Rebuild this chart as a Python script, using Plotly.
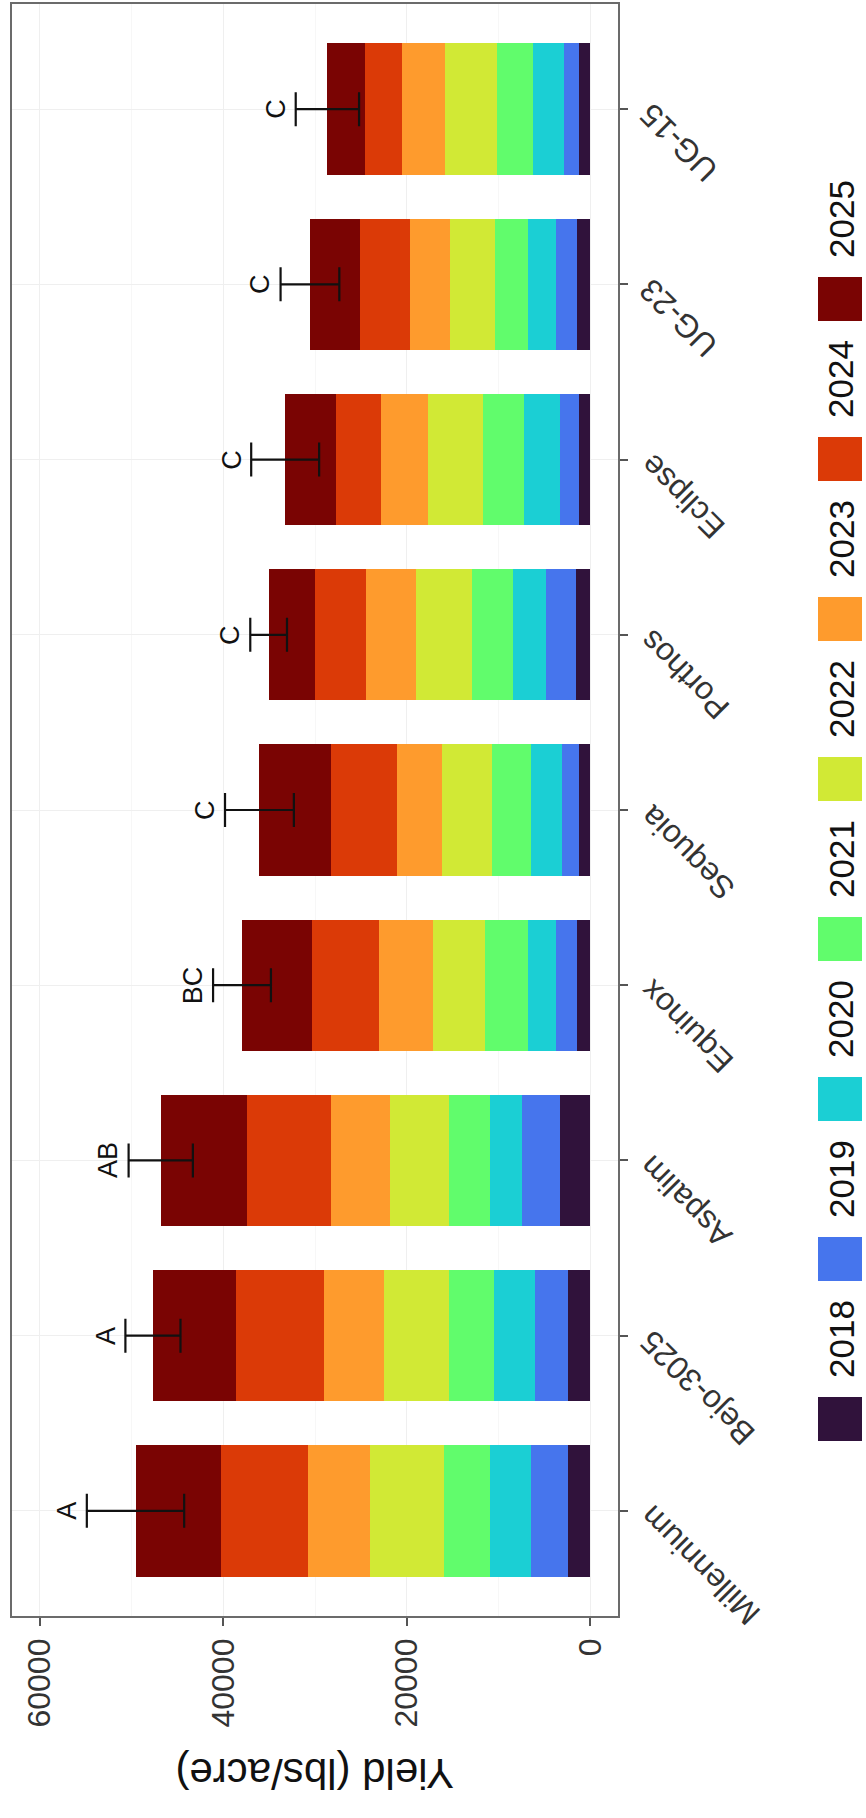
import numpy as np
import plotly.graph_objects as go

# ---------------- data ----------------
varieties = ["Millennium", "Bejo-3025", "Aspalim", "Equinox", "Sequoia",
             "Porthos", "Eclipse", "UG-23", "UG-15"]
years = ["2018", "2019", "2020", "2021", "2022", "2023", "2024", "2025"]

y2018 = [2500, 2400, 3300, 1500, 1200, 1600, 1300, 1500, 1200]
y2019 = [3950, 3600, 4200, 2200, 1900, 3200, 2000, 2300, 1700]
y2020 = [4500, 4500, 3450, 3150, 3350, 3600, 3900, 3000, 3350]
y2021 = [5000, 4950, 4500, 4650, 4300, 4500, 4500, 3600, 3950]
y2022 = [8100, 7000, 6400, 5700, 5400, 6150, 6000, 4900, 5600]
y2023 = [6750, 6600, 6400, 5800, 4900, 5400, 5100, 4350, 4700]
y2024 = [9400, 9600, 9150, 7350, 7200, 5500, 4900, 5400, 4050]
y2025 = [9350, 9000, 9400, 7600, 7800, 5100, 5550, 5500, 4100]

std_err = [5300, 3000, 3500, 3150, 3750, 2000, 3700, 3200, 3450]
letters = ["A", "A", "AB", "BC", "C", "C", "C", "C", "C"]

x_ticks = [0, 20000, 40000, 60000]
x_ticktext = ["0", "20000", "40000", "60000"]

series = [y2018, y2019, y2020, y2021, y2022, y2023, y2024, y2025]
colors = ["#30123B", "#4675ED", "#1BCFD4", "#61FC6C",
          "#D1E935", "#FE9B2D", "#DB3A07", "#7A0403"]

totals = np.sum(np.array(series), axis=0)

FONT = "Liberation Sans, Arial, sans-serif"

# plot-area geometry in pixels (for paper-referenced decorations)
W, H = 866, 1818
PL, PR, PT, PB = 12, 618, 4, 1616


def px_to_paper_x(px):
    return (px - PL) / (PR - PL)


def px_to_paper_y(py):
    return (PB - py) / (PB - PT)


fig = go.Figure()

for yr, vals, col in zip(years, series, colors):
    fig.add_trace(go.Bar(
        x=vals, y=varieties, orientation="h", name=yr,
        marker=dict(color=col, line=dict(width=0)),
        width=0.75, showlegend=False,
    ))

# error bars at the stacked totals
fig.add_trace(go.Scatter(
    x=totals, y=varieties, mode="markers",
    marker=dict(size=1, color="rgba(0,0,0,0)"),
    error_x=dict(type="data", array=std_err, symmetric=True,
                 color="#111111", thickness=2.2, width=17),
    showlegend=False, hoverinfo="skip",
))

annotations = []

# significance letters
for v, tot, se, let in zip(varieties, totals, std_err, letters):
    annotations.append(dict(
        x=tot + se, y=v, xref="x", yref="y", text=let, showarrow=False,
        textangle=-90, xanchor="center", yanchor="middle", xshift=-20,
        font=dict(family=FONT, size=27, color="#111111"),
    ))

# category labels (rotated)
for v in varieties:
    annotations.append(dict(
        x=1, y=v, xref="paper", yref="y", text=v, showarrow=False,
        textangle=-135, xanchor="left", yanchor="top", xshift=12, yshift=15,
        font=dict(family=FONT, size=32, color="#333333"),
    ))

# axis title (upside down)
annotations.append(dict(
    x=0.5, y=px_to_paper_y(1774), xref="paper", yref="paper",
    text="Yield (lbs/acre)", showarrow=False, textangle=180,
    xanchor="center", yanchor="middle",
    font=dict(family=FONT, size=42, color="#111111"),
))

# manual legend (rotated text)
shapes = []
for i, (yr, col) in enumerate(zip(years, colors)):
    top = 1397 - i * 160
    shapes.append(dict(
        type="rect", xref="paper", yref="paper",
        x0=px_to_paper_x(818), x1=px_to_paper_x(862),
        y0=px_to_paper_y(top + 44), y1=px_to_paper_y(top),
        fillcolor=col, line=dict(width=0),
    ))
    annotations.append(dict(
        x=px_to_paper_x(841), y=px_to_paper_y(top - 19 - 39),
        xref="paper", yref="paper", text=yr, showarrow=False,
        textangle=-90, xanchor="center", yanchor="middle",
        font=dict(family=FONT, size=35, color="#111111"),
    ))

fig.update_layout(
    width=W, height=H,
    margin=dict(l=PL, r=W - PR, t=PT, b=H - PB, autoexpand=False),
    barmode="stack",
    plot_bgcolor="white", paper_bgcolor="white",
    showlegend=False,
    annotations=annotations,
    shapes=shapes,
    font=dict(family=FONT),
)

fig.update_xaxes(
    range=[63000, -3000],
    tickvals=x_ticks, ticktext=x_ticktext, tickangle=-90,
    ticks="outside", ticklen=8, tickwidth=1.5, tickcolor="#555555",
    tickfont=dict(family=FONT, size=32, color="#333333"),
    showgrid=True, gridcolor="#EFEFEF", gridwidth=1.2,
    minor=dict(dtick=10000, showgrid=True, gridcolor="#F7F7F7", gridwidth=0.8),
    showline=True, linecolor="#6B6B6B", linewidth=1.5, mirror=True,
    zeroline=False, automargin=False,
)

fig.update_yaxes(
    type="category", categoryorder="array", categoryarray=varieties,
    range=[-0.6, 8.6], side="right",
    ticks="outside", ticklen=8, tickwidth=1.5, tickcolor="#555555",
    showticklabels=False,
    showgrid=True, gridcolor="#EFEFEF", gridwidth=1.2,
    showline=True, linecolor="#6B6B6B", linewidth=1.5, mirror=True,
    zeroline=False, automargin=False,
)

fig.write_html(
    "out.html",
    config={"displayModeBar": False},
    post_script="document.body.style.margin='0';document.body.style.overflow='hidden';",
)
